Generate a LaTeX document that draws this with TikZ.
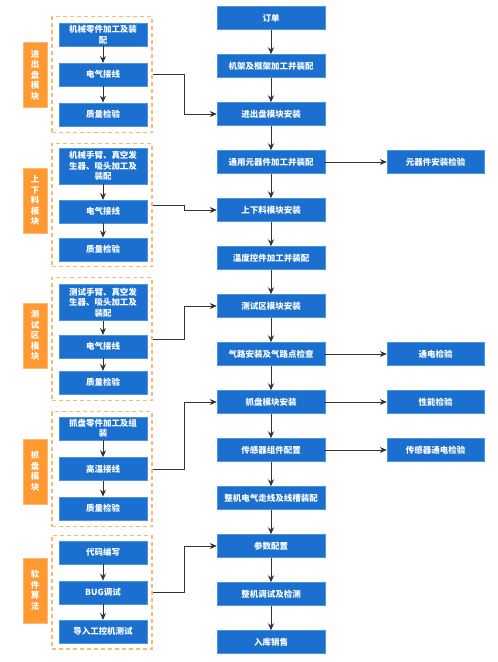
\documentclass[tikz,border=0pt]{standalone}
\usepackage{fontspec}
\setmainfont{Noto Sans CJK SC}
\usetikzlibrary{arrows.meta}
\definecolor{boxblue}{HTML}{1A6FCF}
\definecolor{boxedge}{HTML}{4E94E0}
\definecolor{tagorange}{HTML}{FF9A33}
\definecolor{dashorange}{HTML}{FFB872}
\definecolor{linegray}{HTML}{333333}
\tikzset{
  blk/.style={draw=boxedge,fill=boxblue,text=white,inner sep=0pt,align=center,
    font=\fontsize{8.5}{10.5}\selectfont\bfseries},
  mainbox/.style={blk,minimum width=108pt,minimum height=23pt},
  sidebox/.style={blk,minimum width=97pt,minimum height=23pt},
  partbox/.style={blk,minimum width=88pt,minimum height=23pt},
  grp/.style={draw=dashorange,line width=1.1pt,dash pattern=on 4pt off 3pt,minimum width=100pt},
  tag/.style={fill=tagorange,draw=tagorange!70,text=white,inner sep=0pt,align=center,
    minimum width=24pt,minimum height=65pt,font=\fontsize{8.5}{10.5}\selectfont\bfseries},
  arr/.style={draw=linegray,line width=0.9pt,-{Stealth[length=7pt,width=6pt]}}
}
\begin{document}
\begin{tikzpicture}[x=1pt,y=-1pt]
    \useasboundingbox (0,0) rectangle (498,662);
    % main line
    \foreach \t [count=\i] in {订单,机架及框架加工并装配,进出盘模块安装,通用元器件加工并装配,
        上下料模块安装,温度控件加工并装配,测试区模块安装,气路安装及气路点检查,
        抓盘模块安装,传感器组件配置,整机电气走线及线槽装配,参数配置,整机调试及检测,入库销售} {
        \node[mainbox] (m\i) at (271,{18+48*(\i-1)}) {\t};
    }
    \foreach \i [evaluate=\i as \j using int(\i+1)] in {1,...,13} {
        \draw[arr] (m\i) -- (m\j);
    }
    % checks on the right
    \foreach \i/\j/\t in {4/1/元器件安装检验,8/2/通电检验,9/3/性能检验,10/4/传感器通电检验} {
        \node[sidebox] (r\j) at (435.5,{18+48*(\i-1)}) {\t};
        \draw[arr] (m\i) -- (r\j);
    }
    % module groups
    \node[grp,minimum height=116pt] (g1) at (102,74.7) {};
    \node[tag] (t1) at (35,75) {进\\出\\盘\\模\\块};
    \node[partbox] (a1) at (103,34.7) {机械零件加工及装\\配};
    \node[partbox] (b1) at (103,74.7) {电气接线};
    \node[partbox] (c1) at (103,114.3) {质量检验};

    \node[grp,minimum height=123.4pt] (g2) at (102,205) {};
    \node[tag] (t2) at (35,200.8) {上\\下\\料\\模\\块};
    \node[partbox,minimum height=36pt] (a2) at (103,166.2) {机械手臂、真空发\\生器、吸头加工及\\装配};
    \node[partbox] (b2) at (103,211.7) {电气接线};
    \node[partbox] (c2) at (103,249.3) {质量检验};

    \node[grp,minimum height=123.4pt] (g3) at (102,339) {};
    \node[tag] (t3) at (35,335.5) {测\\试\\区\\模\\块};
    \node[partbox,minimum height=36.7pt] (a3) at (103,302.3) {测试手臂、真空发\\生器、吸头加工及\\装配};
    \node[partbox] (b3) at (103,346.7) {电气接线};
    \node[partbox] (c3) at (103,382.7) {质量检验};

    \node[grp,minimum height=115pt] (g4) at (102,469.2) {};
    \node[tag] (t4) at (35,471.5) {抓\\盘\\模\\块};
    \node[partbox] (a4) at (103,428.3) {抓盘零件加工及组\\装};
    \node[partbox] (b4) at (103,469) {高温接线};
    \node[partbox] (c4) at (103,508.3) {质量检验};

    \node[grp,minimum height=113.3pt] (g5) at (102,592.3) {};
    \node[tag] (t5) at (35,590.5) {软\\件\\算\\法};
    \node[partbox] (a5) at (103,552.7) {代码编写};
    \node[partbox] (b5) at (103,592.3) {BUG调试};
    \node[partbox] (c5) at (103,631.7) {导入工控机测试};

    \foreach \k in {1,...,5} {
        \draw[arr] (a\k) -- (b\k);
        \draw[arr] (b\k) -- (c\k);
    }
    % groups into the main line
    \foreach \k/\m in {1/3,2/5,3/7,4/9,5/12} {
        \draw[arr] (g\k.east) -- ++(32,0) |- (m\m.west);
    }
\end{tikzpicture}
\end{document}
